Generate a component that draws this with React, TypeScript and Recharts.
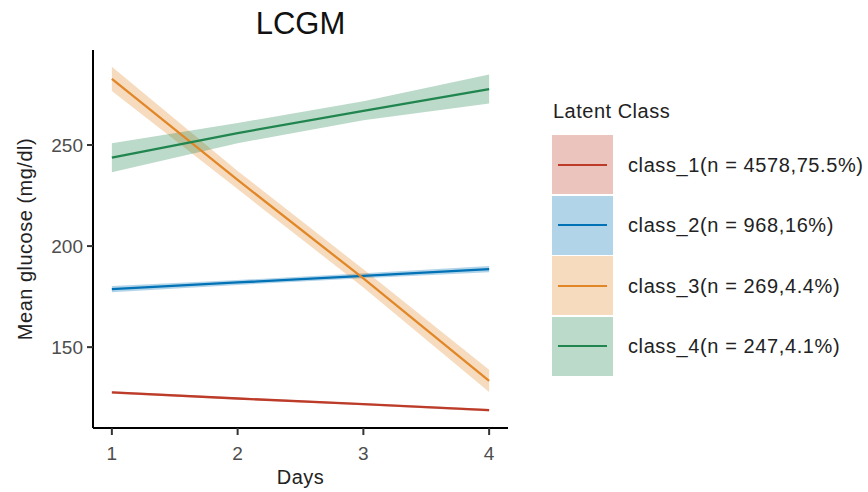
import { ComposedChart, Area, Line, XAxis, YAxis, Label } from 'recharts';

const FONT = '"Liberation Sans", Arial, sans-serif';

const days = [1, 2, 3, 4];
const classNames = ['class_1', 'class_2', 'class_3', 'class_4'];
const classLabels = [
    'class_1(n = 4578,75.5%)',
    'class_2(n = 968,16%)',
    'class_3(n = 269,4.4%)',
    'class_4(n = 247,4.1%)',
];
const COLORS = ['#BC3C29', '#0072B5', '#E18727', '#20854E'];

// mean glucose per class on days 1..4
const class1 = [127.6, 124.6, 121.8, 118.8];
const class2 = [178.7, 182.0, 185.3, 188.6];
const class3 = [282.7, 232.7, 184.0, 133.3];
const class4 = [243.7, 255.9, 266.9, 277.7];
// half width of the confidence band
const class1Ci = [0.6, 0.5, 0.5, 0.6];
const class2Ci = [1.6, 1.2, 1.2, 1.6];
const class3Ci = [6.0, 4.5, 4.5, 5.5];
const class4Ci = [7.2, 5.0, 4.7, 7.2];

const yTicks = [150, 200, 250];

const means = [class1, class2, class3, class4];
const cis = [class1Ci, class2Ci, class3Ci, class4Ci];

const data = days.map((d, i) => {
    const row: any = { day: d };
    classNames.forEach((c, k) => {
        row[c] = means[k][i];
        row[c + '_band'] = [means[k][i] - cis[k][i], means[k][i] + cis[k][i]];
    });
    return row;
});

const tickStyle = { fill: '#4d4d4d', fontSize: 19, fontFamily: FONT };
const titleStyle = { fill: '#222', fontSize: 20, fontFamily: FONT, letterSpacing: 0.5 };

export default function App() {
    return (
        <div style={{ position: 'absolute', left: 0, top: 0, width: 868, height: 492, background: '#fff', fontFamily: FONT }}>
            <ComposedChart width={868} height={492} data={data} margin={{ top: 50, right: 360, bottom: 0, left: 0 }}>
                <XAxis
                    dataKey="day"
                    type="number"
                    domain={[0.85, 4.15]}
                    ticks={days}
                    height={64}
                    tick={tickStyle}
                    tickSize={7}
                    tickMargin={12}
                    axisLine={{ stroke: '#000', strokeWidth: 2 }}
                    tickLine={{ stroke: '#333', strokeWidth: 2 }}
                >
                    <Label value="Days" position="insideBottom" offset={8} style={titleStyle} />
                </XAxis>
                <YAxis
                    type="number"
                    domain={[110, 297]}
                    ticks={yTicks}
                    width={93}
                    tick={tickStyle}
                    tickSize={6}
                    tickMargin={4}
                    allowDataOverflow
                    axisLine={{ stroke: '#000', strokeWidth: 2 }}
                    tickLine={{ stroke: '#333', strokeWidth: 2 }}
                    label={{
                        content: () => (
                            <text x={25} y={239} transform="rotate(-90 25 239)" textAnchor="middle" dominantBaseline="central"
                                style={titleStyle}>
                                Mean glucose (mg/dl)
                            </text>
                        ),
                    }}
                />
                {classNames.map((c, k) => (
                    <Area
                        key={c + '_band'}
                        dataKey={c + '_band'}
                        stroke="none"
                        fill={COLORS[k]}
                        fillOpacity={0.3}
                        isAnimationActive={false}
                        activeDot={false}
                    />
                ))}
                {classNames.map((c, k) => (
                    <Line
                        key={c}
                        dataKey={c}
                        stroke={COLORS[k]}
                        strokeWidth={2.3}
                        dot={false}
                        activeDot={false}
                        isAnimationActive={false}
                    />
                ))}
            </ComposedChart>
            <div style={{ position: 'absolute', left: 93, width: 415, top: 8, lineHeight: 1, textAlign: 'center', fontSize: 31, color: '#111' }}>
                LCGM
            </div>
            <div style={{ position: 'absolute', left: 553, top: 101, lineHeight: 1, fontSize: 20, letterSpacing: 0.5, color: '#222' }}>Latent Class</div>
            <div style={{ position: 'absolute', left: 552, top: 135 }}>
                {classLabels.map((lab, k) => (
                    <div key={lab} style={{ display: 'flex', alignItems: 'center', height: 60.5 }}>
                        <div style={{ position: 'relative', width: 61, height: 59, background: COLORS[k] + '4D', marginBottom: 1.5 }}>
                            <div style={{ position: 'absolute', left: 6, right: 6, top: 28.5, height: 2.3, background: COLORS[k] }} />
                        </div>
                        <div style={{ marginLeft: 15, fontSize: 20, letterSpacing: 0.6, color: '#222', whiteSpace: 'nowrap' }}>{lab}</div>
                    </div>
                ))}
            </div>
        </div>
    );
}
